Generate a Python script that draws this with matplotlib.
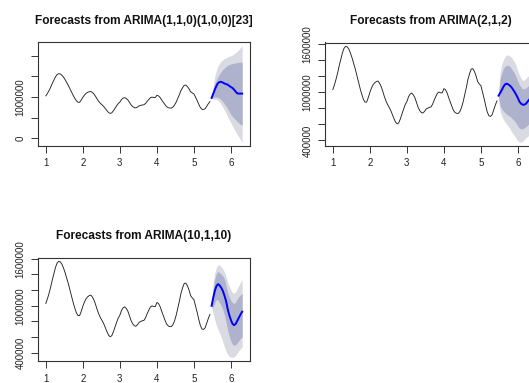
import numpy as np
import matplotlib
matplotlib.use("Agg")
import matplotlib.pyplot as plt

plt.rcParams['font.family'] = ['Liberation Sans', 'DejaVu Sans']

# ---- data ----
freq = 23
start = 1.0
series = [1030, 1090, 1160, 1240, 1330, 1410, 1490, 1545, 1567, 1560,
          1530, 1480, 1420, 1350, 1280, 1200, 1120, 1040, 970, 910,
          875, 875, 930, 995, 1050, 1090, 1115, 1130, 1136, 1110,
          1070, 1010, 945, 890, 845, 810, 770, 720, 670, 625,
          605, 620, 670, 730, 790, 845, 880, 940, 975, 987,
          965, 930, 870, 810, 770, 745, 740, 760, 790, 800,
          810, 815, 850, 900, 945, 985, 1000, 990, 990, 1042,
          1030, 990, 930, 875, 820, 770, 745, 735, 735, 760,
          810, 880, 970, 1060, 1160, 1230, 1285, 1290, 1255, 1200,
          1130, 1100, 1080, 1000, 920, 830, 750, 705, 698, 720,
          780, 840, 890]  # thousands

titles = ["Forecasts from ARIMA(1,1,0)(1,0,0)[23]",
          "Forecasts from ARIMA(2,1,2)",
          "Forecasts from ARIMA(10,1,10)"]

mean1 = [980, 1080, 1180, 1270, 1340, 1365, 1370, 1350, 1330, 1315,
         1300, 1270, 1245, 1220, 1180, 1130, 1090, 1085, 1085, 1085]
up95_1 = [1000, 1250, 1500, 1650, 1750, 1820, 1870, 1900, 1930, 1950,
          1970, 1990, 2000, 2020, 2050, 2080, 2110, 2150, 2200, 2240]
up80_1 = [990, 1180, 1330, 1420, 1490, 1560, 1620, 1670, 1710, 1740,
          1770, 1790, 1800, 1810, 1820, 1830, 1835, 1840, 1845, 1845]
lo80_1 = [970, 990, 1010, 1000, 990, 970, 930, 890, 840, 780,
          720, 650, 580, 530, 490, 450, 410, 370, 340, 320]
lo95_1 = [960, 960, 950, 940, 920, 880, 820, 760, 690, 610,
          520, 450, 380, 300, 230, 160, 90, 30, -30, -90]

mean2 = [955, 990, 1025, 1065, 1095, 1103, 1095, 1080, 1060, 1030,
         1000, 965, 925, 880, 855, 843, 843, 855, 880, 905]
up95_2 = [1000, 1250, 1340, 1400, 1440, 1460, 1460, 1450, 1430, 1400,
          1370, 1320, 1260, 1210, 1170, 1145, 1150, 1170, 1190, 1210]
up80_2 = [980, 1170, 1240, 1290, 1320, 1330, 1330, 1320, 1290, 1260,
          1230, 1180, 1130, 1090, 1060, 1040, 1040, 1050, 1070, 1085]
lo80_2 = [930, 830, 790, 765, 745, 725, 710, 700, 680, 660,
          640, 610, 575, 550, 545, 545, 555, 570, 590, 610]
lo95_2 = [910, 760, 700, 660, 630, 600, 575, 550, 510, 480,
          455, 420, 395, 380, 378, 390, 410, 430, 450, 465]

mean3 = [1000, 1100, 1190, 1250, 1277, 1260, 1230, 1190, 1130, 1060,
         960, 880, 820, 770, 753, 770, 810, 850, 890, 925]
up95_3 = [1020, 1300, 1420, 1490, 1525, 1520, 1495, 1470, 1430, 1370,
          1300, 1250, 1200, 1170, 1160, 1180, 1220, 1260, 1300, 1335]
up80_3 = [1010, 1220, 1340, 1410, 1440, 1420, 1400, 1380, 1340, 1260,
          1170, 1110, 1070, 1040, 1030, 1050, 1090, 1120, 1140, 1160]
lo80_3 = [990, 980, 1040, 1080, 1075, 1040, 1000, 950, 880, 790,
          690, 610, 550, 510, 495, 505, 530, 560, 585, 600]
lo95_3 = [980, 900, 820, 750, 700, 650, 600, 540, 480, 420,
          380, 355, 345, 345, 348, 370, 400, 430, 455, 475]

xticks = [1, 2, 3, 4, 5, 6]
yticks1 = [0, 500000, 1000000, 1500000, 2000000]
ylabels1 = ["0", "", "1000000", "", ""]
yticks23 = [400000, 600000, 800000, 1000000, 1200000, 1400000, 1600000]
ylabels23 = ["400000", "", "", "1000000", "", "", "1600000"]

# ---- figure ----
W, H = 529, 383
fig = plt.figure(figsize=(W / 100, H / 100), dpi=100)

def ax_at(left, top, right, bottom):
    return fig.add_axes([left / W, 1 - bottom / H, (right - left) / W, (bottom - top) / H])

panels = [
    (ax_at(38, 42, 250, 146), titles[0], mean1, up95_1, up80_1, lo80_1, lo95_1, yticks1, ylabels1),
    (ax_at(325, 42.5, 537, 146), titles[1], mean2, up95_2, up80_2, lo80_2, lo95_2, yticks23, ylabels23),
    (ax_at(38, 257.5, 250, 361), titles[2], mean3, up95_3, up80_3, lo80_3, lo95_3, yticks23, ylabels23),
]

y = np.array(series) * 1000.0
t = start + np.arange(len(y)) / freq
light = '#D9DAE2'
dark = '#AEB2CD'

for ax, title, mean, u95, u80, l80, l95, yt, yl in panels:
    n = len(mean)
    tf = start + (len(y) + np.arange(n)) / freq
    m = np.array(mean) * 1000.0
    u95a = np.array(u95) * 1000.0
    u80a = np.array(u80) * 1000.0
    l80a = np.array(l80) * 1000.0
    l95a = np.array(l95) * 1000.0
    ax.fill_between(tf, l95a, u95a, color=light, lw=0)
    ax.fill_between(tf, l80a, u80a, color=dark, lw=0)
    ax.plot(t, y, color='#222222', lw=0.65)
    ax.plot(tf, m, color='#0000FF', lw=1.4)
    xmin, xmax = t[0], tf[-1]
    ymin = min(y.min(), l95a.min())
    ymax = max(y.max(), u95a.max())
    dx = (xmax - xmin) * 0.04
    dy = (ymax - ymin) * 0.04
    ax.set_xlim(xmin - dx, xmax + dx)
    ax.set_ylim(ymin - dy, ymax + dy)
    ax.set_xticks(xticks)
    ax.set_xticklabels([str(v) for v in xticks])
    ax.set_yticks(yt)
    ax.set_yticklabels(yl, rotation=90, va='center')
    ax.tick_params(direction='out', length=5, width=0.7, color='#333333',
                   labelsize=7, labelcolor='#222222', pad=4)
    for s in ax.spines.values():
        s.set_color('#333333')
        s.set_linewidth(0.8)
    ax.set_title(title, fontsize=8.6, fontweight='bold', pad=13, color='#111111')

fig.savefig('out.png', dpi=100)
